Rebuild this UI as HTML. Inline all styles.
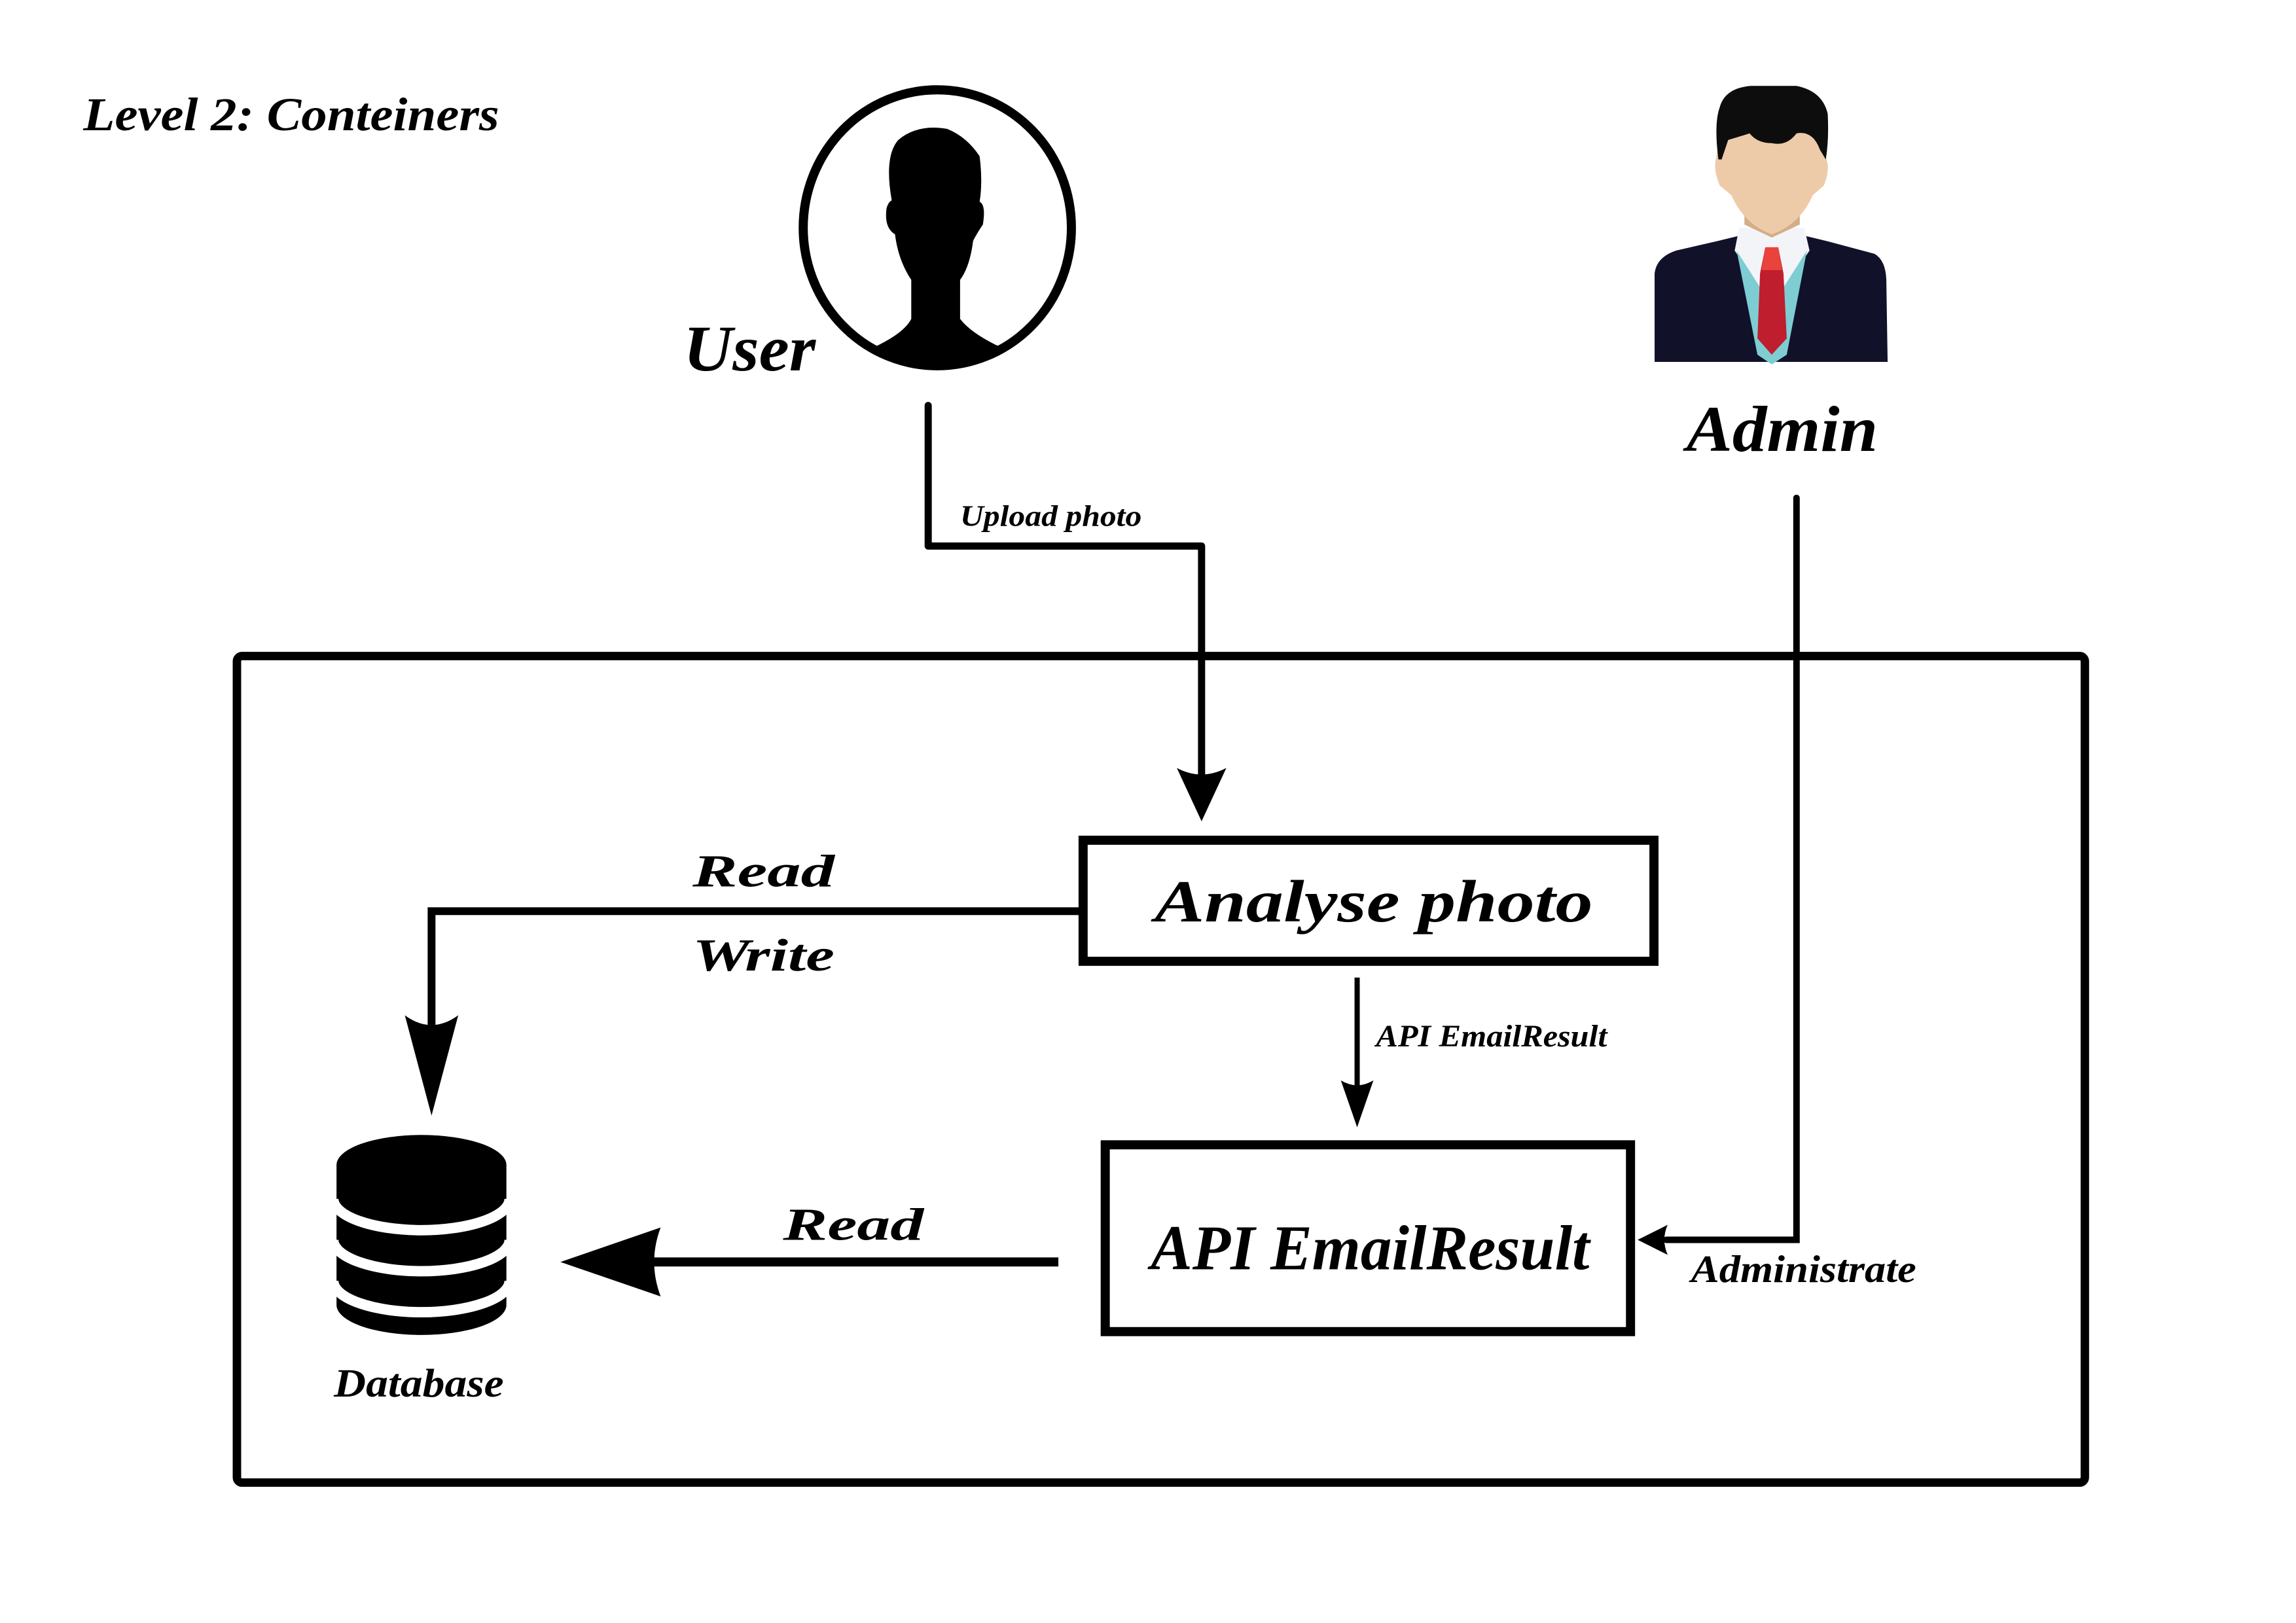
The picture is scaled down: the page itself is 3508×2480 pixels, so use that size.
<!DOCTYPE html>
<html><head><meta charset="utf-8"><style>html,body{margin:0;padding:0;background:#fff}svg{display:block}</style></head>
<body>
<svg width="3508" height="2480" viewBox="0 0 3508 2480" xmlns="http://www.w3.org/2000/svg" font-family="Liberation Serif, serif" font-style="italic" font-weight="bold">
<rect width="3508" height="2480" fill="#fff"/>
<g transform="scale(0.9945)">
<text x="128" y="200" font-size="72" textLength="639" lengthAdjust="spacingAndGlyphs">Level 2: Conteiners</text>

<defs><clipPath id="uc"><ellipse cx="1440" cy="350" rx="205" ry="210"/></clipPath></defs>
<ellipse cx="1440" cy="350" rx="206" ry="212" fill="#fff" stroke="#000" stroke-width="14"/>
<g clip-path="url(#uc)" fill="#000">
<path d="M1400 490 L1400 430 Q1380 400 1375 360 Q1358 350 1362 320 Q1365 310 1370 308 Q1358 240 1380 215 Q1410 190 1455 198 Q1485 210 1505 240 Q1510 280 1505 310 Q1515 315 1510 345 Q1500 360 1495 370 Q1490 410 1475 430 L1475 490 Q1490 510 1530 530 Q1570 545 1600 575 L1600 620 L1280 620 L1285 575 Q1310 545 1350 530 Q1390 510 1400 490Z"/>
</g>
<text x="1050" y="569" font-size="100" textLength="203" lengthAdjust="spacingAndGlyphs">User</text>

<path d="M2542 420 Q2545 395 2575 385 L2640 370 L2722 350 L2805 370 L2880 390 Q2897 400 2898 430 L2900 556 L2542 556Z" fill="#11122a"/>
<path d="M2672 350 L2772 350 L2780 385 L2722 470 L2665 385Z" fill="#f3f4f8"/>
<path d="M2668 385 L2722 470 L2776 385 L2745 545 L2722 560 L2700 545Z" fill="#7ecdd3"/>
<path d="M2712 380 L2732 380 L2740 420 L2745 520 L2722 545 L2700 520 L2704 420Z" fill="#be1e2d"/>
<path d="M2712 380 L2732 380 L2738 415 L2706 415Z" fill="#e9433b"/>
<path d="M2680 310 L2765 310 L2765 345 L2722 365 L2680 345Z" fill="#d4ad86"/>
<path d="M2636 245 Q2632 260 2642 285 L2660 300 Q2680 345 2722 360 Q2765 345 2785 300 L2802 285 Q2812 260 2806 245 L2800 200 L2645 200Z" fill="#eecba8"/>
<path d="M2640 245 Q2633 190 2642 165 Q2650 135 2690 132 L2760 132 Q2800 140 2808 175 Q2810 215 2805 245 L2796 230 Q2785 200 2760 205 Q2745 225 2722 220 Q2700 220 2688 205 L2655 215 L2645 245Z" fill="#0d0d0d"/>
<text x="2591" y="693" font-size="100" textLength="294" lengthAdjust="spacingAndGlyphs">Admin</text>

<rect x="364" y="1008" width="2839" height="1270" rx="8" fill="none" stroke="#000" stroke-width="13"/>

<polyline points="1426,623 1426,839 1846,839 1846,1210" fill="none" stroke="#000" stroke-width="11" stroke-linejoin="round" stroke-linecap="round"/>
<path d="M1846 1262 L1808 1180 Q1846 1200 1884 1180Z" fill="#000"/>
<text x="1475" y="808" font-size="46" textLength="279" lengthAdjust="spacingAndGlyphs">Upload photo</text>

<polyline points="2760,765 2760,1905 2560,1905" fill="none" stroke="#000" stroke-width="10" stroke-linecap="round"/>
<path d="M2516 1905 L2562 1882 Q2552 1905 2562 1928Z" fill="#000"/>
<text x="2598" y="1970" font-size="60" textLength="346" lengthAdjust="spacingAndGlyphs">Administrate</text>

<rect x="1664" y="1291" width="877" height="186" fill="#fff" stroke="#000" stroke-width="14"/>
<text x="1774" y="1416" font-size="92" textLength="673" lengthAdjust="spacingAndGlyphs">Analyse photo</text>

<polyline points="1658,1400 663,1400 663,1600" fill="none" stroke="#000" stroke-width="12"/>
<path d="M663 1714 L622 1560 Q663 1590 704 1560Z" fill="#000"/>
<text x="1064" y="1362" font-size="70" textLength="218" lengthAdjust="spacingAndGlyphs">Read</text>
<text x="1064" y="1491" font-size="70" textLength="218" lengthAdjust="spacingAndGlyphs">Write</text>

<line x1="2085" y1="1502" x2="2085" y2="1680" stroke="#000" stroke-width="8"/>
<path d="M2085 1732 L2060 1660 Q2085 1675 2110 1660Z" fill="#000"/>
<text x="2114" y="1608" font-size="48" textLength="355" lengthAdjust="spacingAndGlyphs">API EmailResult</text>

<rect x="1698" y="1759" width="807" height="287" fill="#fff" stroke="#000" stroke-width="14"/>
<text x="1768" y="1950" font-size="98" textLength="674" lengthAdjust="spacingAndGlyphs">API EmailResult</text>

<line x1="1626" y1="1939" x2="990" y2="1939" stroke="#000" stroke-width="14"/>
<path d="M861 1939 L1015 1886 Q995 1939 1015 1992Z" fill="#000"/>
<text x="1203" y="1905" font-size="70" textLength="216" lengthAdjust="spacingAndGlyphs">Read</text>

<path d="M517 1790 A130 46 0 0 1 778 1790 L778 2005 A130 46 0 0 1 517 2005Z" fill="#000"/>
<g fill="none" stroke="#fff" stroke-width="16">
<path d="M512 1842 A135 48 0 0 0 783 1842"/>
<path d="M512 1905 A135 48 0 0 0 783 1905"/>
<path d="M512 1968 A135 48 0 0 0 783 1968"/>
</g>
<text x="513" y="2146" font-size="62" textLength="261" lengthAdjust="spacingAndGlyphs">Database</text>
</g>
</svg>
</body></html>
